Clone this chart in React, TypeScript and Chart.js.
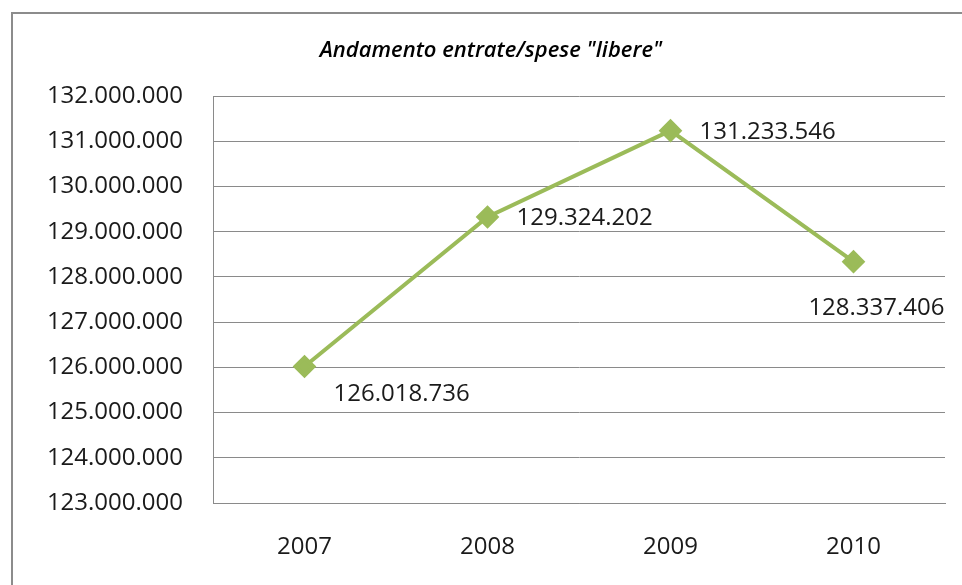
import React, { useEffect, useRef } from "react";
import { Chart, registerables } from "chart.js";

Chart.register(...registerables);

const TITLE = 'Andamento entrate/spese "libere"';
const YEARS = ["2007", "2008", "2009", "2010"];
const VALUES = [126018736, 129324202, 131233546, 128337406];
const Y_MIN = 123000000;
const Y_MAX = 132000000;
const Y_STEP = 1000000;

const FONT = "'Open Sans', 'Noto Sans', sans-serif";
const GREEN = "#9BBB59";
const GRID = "#8a8a8a";

const fmt = (v: number) => String(Math.round(v)).replace(/\B(?=(\d{3})+(?!\d))/g, ".");

// label placement relative to each point: [dx, dy, align]
const LABEL_POS: [number, number, CanvasTextAlign][] = [
  [29, 28, "left"],
  [29, 1, "left"],
  [29, 1, "left"],
  [91, 47, "right"],
];

const labelPlugin = {
  id: "pointLabels",
  afterDatasetsDraw(chart: any) {
    const ctx = chart.ctx;
    const meta = chart.getDatasetMeta(0);
    ctx.save();
    ctx.font = `24px ${FONT}`;
    ctx.fillStyle = "#1a1a1a";
    ctx.textBaseline = "middle";
    meta.data.forEach((pt: any, i: number) => {
      const [dx, dy, align] = LABEL_POS[i];
      ctx.textAlign = align;
      ctx.fillText(fmt(VALUES[i]), pt.x + dx, pt.y + dy);
    });
    ctx.restore();
  },
};

const titlePlugin = {
  id: "customTitle",
  afterDraw(chart: any) {
    const ctx = chart.ctx;
    ctx.save();
    ctx.font = `italic 600 22px ${FONT}`;
    ctx.fillStyle = "#000";
    ctx.textAlign = "center";
    ctx.textBaseline = "middle";
    ctx.fillText(TITLE, 491, 51);
    ctx.restore();
  },
};

export default function App() {
  const ref = useRef<HTMLCanvasElement>(null);
  useEffect(() => {
    if (!ref.current) return;
    const chart = new Chart(ref.current, {
      type: "line",
      data: {
        labels: YEARS,
        datasets: [
          {
            data: VALUES,
            borderColor: GREEN,
            backgroundColor: GREEN,
            borderWidth: 4,
            pointStyle: "rectRot",
            pointRadius: 9,
            pointHoverRadius: 9,
            pointBackgroundColor: GREEN,
            pointBorderColor: GREEN,
            tension: 0,
          },
        ],
      },
      options: {
        responsive: false,
        animation: false,
        layout: { padding: { top: 96, right: 17, left: 0, bottom: 0 } },
        plugins: {
          legend: { display: false },
          title: { display: false },
          tooltip: { enabled: false },
        },
        scales: {
          x: {
            offset: true,
            grid: { display: false, drawTicks: false },
            border: { color: GRID, width: 1 },
            ticks: {
              font: { family: FONT, size: 24 },
              color: "#1a1a1a",
              padding: 30,
            },
            afterFit: (s: any) => {
              s.height = 82;
            },
          },
          y: {
            min: Y_MIN,
            max: Y_MAX,
            grid: { color: GRID, drawTicks: false, lineWidth: 1 },
            border: { color: GRID, width: 1 },
            ticks: {
              stepSize: Y_STEP,
              font: { family: FONT, size: 24 },
              color: "#1a1a1a",
              padding: 30,
              callback: (v: any) => fmt(Number(v)),
            },
            afterFit: (s: any) => {
              s.width = 213;
            },
          },
        },
      },
      plugins: [labelPlugin, titlePlugin],
    });
    return () => chart.destroy();
  }, []);

  return (
    <div style={{ position: "fixed", left: 0, top: 0, width: 962, height: 585, background: "#fff", overflow: "hidden" }}>
      <canvas ref={ref} width={962} height={585} style={{ position: "absolute", left: 0, top: 0 }} />
      <div
        style={{
          position: "absolute",
          left: 11,
          top: 12,
          width: 1000,
          height: 700,
          border: "2px solid #8c8c8c",
          boxSizing: "border-box",
          pointerEvents: "none",
        }}
      />
    </div>
  );
}
